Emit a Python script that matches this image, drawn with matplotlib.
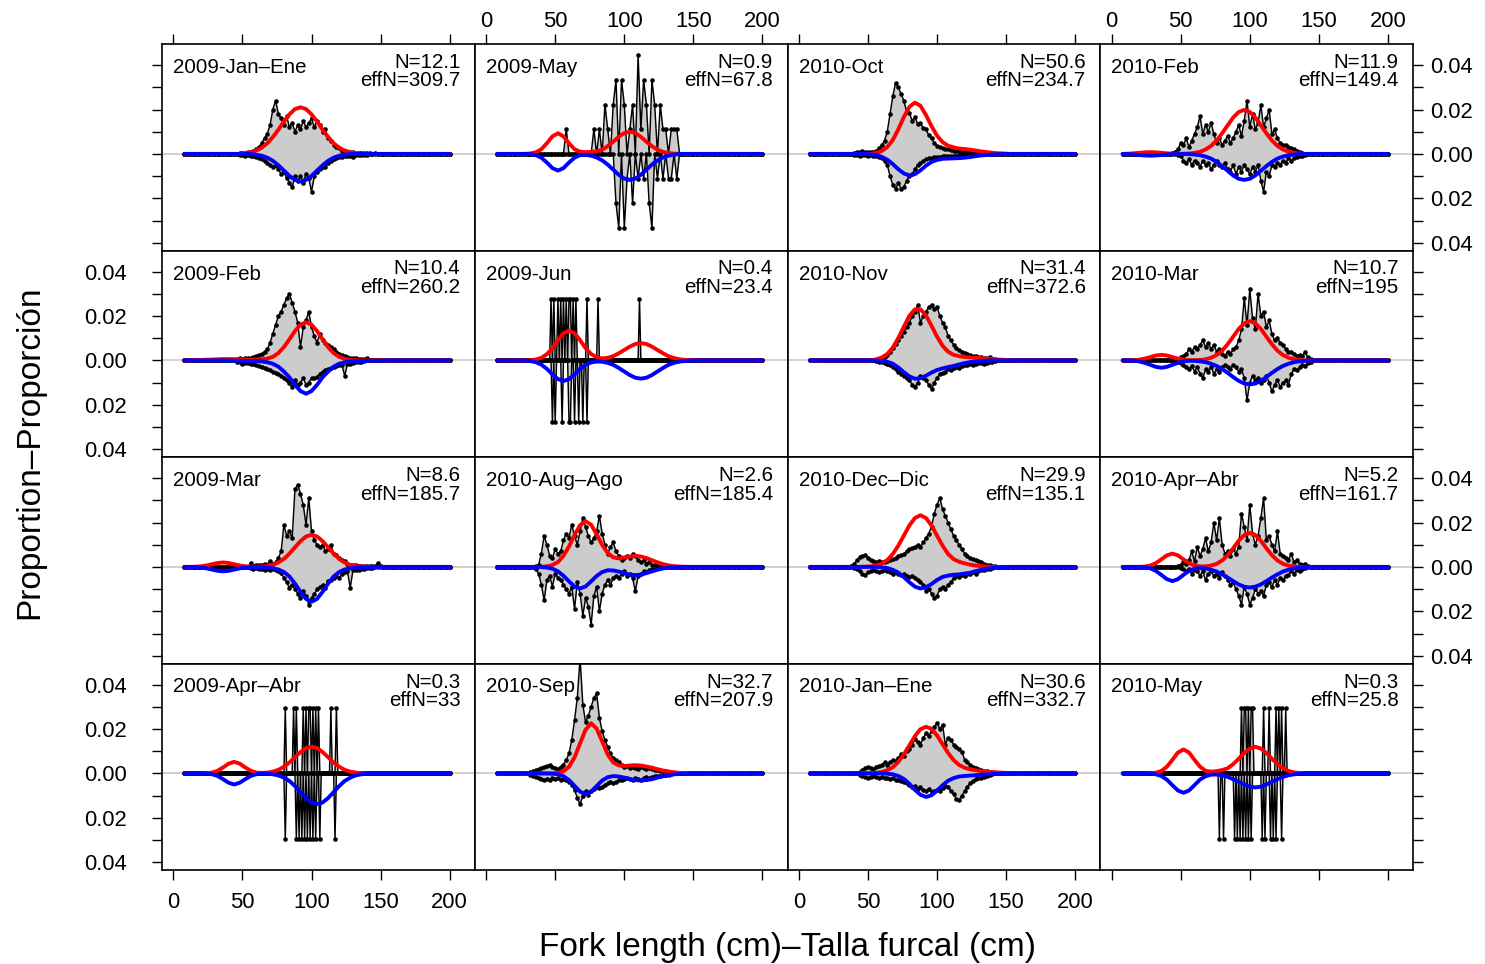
import numpy as np
import matplotlib
matplotlib.use("Agg")
import matplotlib.pyplot as plt

plt.rcParams["font.family"] = ["Liberation Sans", "DejaVu Sans"]

# ---------------------------------------------------------------------------
# Panel annotations, reading order (4 rows x 4 columns)
# ---------------------------------------------------------------------------
titles = ["2009-Jan–Ene", "2009-May", "2010-Oct", "2010-Feb",
          "2009-Feb", "2009-Jun", "2010-Nov", "2010-Mar",
          "2009-Mar", "2010-Aug–Ago", "2010-Dec–Dic", "2010-Apr–Abr",
          "2009-Apr–Abr", "2010-Sep", "2010-Jan–Ene", "2010-May"]
n_values = ["12.1", "0.9", "50.6", "11.9", "10.4", "0.4", "31.4", "10.7",
            "8.6", "2.6", "29.9", "5.2", "0.3", "32.7", "30.6", "0.3"]
effn_values = ["309.7", "67.8", "234.7", "149.4", "260.2", "23.4", "372.6", "195",
               "185.7", "185.4", "135.1", "161.7", "33", "207.9", "332.7", "25.8"]

x_ticks = [0, 50, 100, 150, 200]
y_ticks = [-0.04, -0.03, -0.02, -0.01, 0.0, 0.01, 0.02, 0.03, 0.04]
y_tick_labels = ["0.04", "", "0.02", "", "0.00", "", "0.02", "", "0.04"]

# ---------------------------------------------------------------------------
# Observed proportions at length (x 1e-3).
# (first_cm, values) -> 2-cm bins ; {cm: value} -> single 1-cm bins
# Females plotted upward, males downward.
# ---------------------------------------------------------------------------
obs_f_2009jan = (48, [0.4, 0.6, 0.5, 0.8, 1.0, 1.5, 2, 3, 5, 7, 9, 13, 20, 24, 18, 16, 13, 17, 12, 14,
                      10, 13, 11, 15, 12, 14, 16, 12, 15, 13, 10, 11, 7, 6, 4, 3, 2.5, 1.5, 1.5, 1,
                      0.8, 1, 0.5, 0.5, 0.6, 0.3, 0.3, 0.2, 0, 0.2])
obs_m_2009jan = (48, [0.5, 0.6, 0.8, 0.7, 1, 0.8, 1.5, 2, 2.5, 3, 4, 5, 6, 5, 7, 9, 8, 11, 13, 15,
                      10, 12, 10, 13, 9, 11, 17, 10, 8, 7, 6, 6, 4, 3, 2.5, 2, 1.5, 1.2, 1, 1,
                      0.8, 1.2, 0.6, 0.5, 0.4, 0.3, 0.4, 0.2])

obs_f_2009may = (56, [0, 11.1, 0, 0, 0, 0, 0, 0, 0, 0, 0, 11.1, 0, 11.1, 0, 22.2, 11.1, 0, 22.2, 33.3,
                      0, 33.3, 22.2, 0, 11.1, 22.2, 0, 44.4, 11.1, 33.3, 22.2, 0, 33.3, 22.2, 0, 22.2,
                      11.1, 11.1, 0, 11.1, 11.1, 11.1])
obs_m_2009may = (94, [22.2, 33.3, 0, 33.3, 11.1, 0, 22.2, 0, 11.1, 0, 11.1, 0, 22.2, 33.3, 0, 11.1,
                      0, 11.1, 0, 11.1, 11.1, 0, 11.1])

obs_f_2010oct = (40, [0.5, 1, 1, 1.2, 0.8, 1, 0.8, 1, 1.5, 2.5, 4, 6, 10, 18, 26, 32, 30, 27, 24, 19,
                      18.5, 15, 16.5, 13.5, 14, 11.5, 11, 8.5, 7, 5, 3.6, 3, 2.5, 2.4, 2, 1.8, 1.5,
                      1.3, 1.2, 1, 1, 0.8, 0.7, 0.6, 0.5, 0.5, 0.4, 0.3, 0.3, 0.2])
obs_m_2010oct = (40, [0.3, 0.5, 0.8, 0.6, 0.5, 0.8, 0.6, 1, 1, 1.5, 2, 3, 5, 10, 14, 16, 13, 16, 15, 12,
                      10, 9, 7, 5, 4, 3, 2.5, 2, 2, 1.5, 1.5, 1.2, 1, 1, 1, 1, 0.8, 0.8, 0.6, 0.5,
                      0.5, 0.4, 0.4, 0.3, 0.3, 0.2])

obs_f_2010feb = (44, [0.5, 1, 2, 5, 4, 7, 3, 6, 9, 12, 17, 9, 13, 10, 14, 9, 5, 7, 4, 6,
                      8, 5, 7, 10, 13, 8, 15, 24, 12, 18, 11, 14, 22, 12, 16, 20, 9, 11, 7, 5,
                      4, 4, 3, 2.5, 2, 1.5, 1, 0.5])
obs_m_2010feb = (48, [0.5, 1, 3, 4, 2.5, 5, 3, 4, 6, 3, 5, 4, 7, 5, 3, 5, 6, 4, 7, 8,
                      5, 9, 6, 8, 5, 7, 9, 6, 8, 5, 12, 17, 8, 10, 5, 6, 4, 5, 3, 4,
                      2, 3, 2, 1.5, 1, 1, 0.5])

obs_f_2009feb = (44, [0.3, 0.5, 1, 0.8, 1, 1.2, 1, 1.5, 2, 2.5, 3, 4, 5, 8, 12, 16, 20, 22, 25, 28,
                      30, 26, 22, 17, 6, 15, 18, 22, 15, 11, 8, 12, 9, 8, 7, 6, 5, 4, 3, 2.5,
                      2, 1.5, 1.2, 1, 1, 0.8, 0.6, 0.5, 1, 0.3])
obs_m_2009feb = (46, [0.5, 0.8, 1.5, 1, 1.2, 1.5, 1.5, 2, 2.5, 3, 3.5, 4, 4.5, 5, 5.5, 6, 7, 8, 9, 10,
                      12, 9, 11, 10, 8, 11, 10, 8, 8, 7.5, 6, 5, 4.5, 4, 3.5, 3, 2.5, 2, 2, 7,
                      1.5, 1.5, 1, 0.8, 0.6, 0.5, 0.3])

obs_f_2009jun = {47: 27.8, 49: 27.8, 52: 27.8, 54: 27.8, 56: 27.8, 58: 27.8, 60: 27.8, 61: 27.8,
                 63: 27.8, 65: 27.8, 73: 27.8, 81: 27.8, 111: 27.8}
obs_m_2009jun = {48: 27.8, 50: 27.8, 55: 27.8, 60: 27.8, 61: 27.8, 64: 27.8, 67: 27.8, 70: 27.8,
                 73: 27.8}

obs_f_2010nov = (58, [0.5, 1, 1.5, 2.5, 4, 5.5, 7.5, 9, 11, 13, 15, 17, 20, 22, 25, 17, 20, 22, 24, 25,
                      23, 24, 20, 17, 15, 11, 9, 7, 5.5, 4.5, 4, 3.5, 3, 2.5, 2, 2, 1.5, 1.5, 1.2, 1,
                      1.5, 0.8, 0.5, 0.4, 0.3])
obs_m_2010nov = (56, [0.3, 0.5, 0.8, 1, 1.5, 2, 3, 4, 5, 6, 7, 8, 9, 11, 12, 10, 7, 8, 9, 11,
                      13, 10, 8, 6, 5.5, 5, 4, 4.5, 3.5, 3, 3.5, 2.5, 2, 2, 1.5, 2, 1.5, 1.2, 1, 1.5,
                      1, 0.8, 0.5, 0.3])

obs_f_2010mar = (48, [0.5, 1.5, 2, 3, 5, 4, 6, 5, 7, 9, 6, 8, 5, 7, 4, 5, 3, 2, 4, 3,
                      5, 6, 9, 14, 28, 16, 32, 19, 14, 30, 20, 22, 15, 18, 12, 9, 10, 8, 7, 5,
                      4, 4, 3, 2, 2.5, 2, 3.7, 1.5, 0.5])
obs_m_2010mar = (48, [0.5, 1, 2, 3, 4, 2.5, 5, 3, 6, 8, 4, 5, 3, 6, 4, 5, 3, 2, 3, 4,
                      2, 3, 5, 4, 8, 18, 10, 7, 9, 8, 10, 9, 7, 10, 14, 11, 9, 12, 10, 9,
                      11, 6, 4, 4.5, 3, 2, 2.5, 1, 0.5])

obs_f_2009mar = (56, [1.8, 0.5, 1, 0.8, 1, 1.5, 1, 2.5, 1.5, 2, 4, 7, 19, 14, 16, 13, 35, 37, 33, 28,
                      19, 31, 16, 12, 10, 9, 10, 7, 8, 10, 6, 5.5, 4, 3, 2.5, 1.5, 1, 1, 0.8, 0.5,
                      0.5, 0.4, 0.3, 0.3, 0.2, 0.2, 1.8, 0.2])
obs_m_2009mar = (56, [0.5, 0.8, 0.5, 1, 0.8, 1.2, 1, 1.2, 1, 1.2, 2, 2.7, 5, 7, 9.4, 8, 10, 12, 14, 11,
                      13, 17, 14, 12.4, 10, 9, 8, 9.4, 6.4, 6, 5, 4, 5, 3.4, 2.5, 2, 9.4, 1.5, 1.2, 1.2,
                      1, 0.8, 0.6, 0.4, 0.3])

obs_f_2010aug = (36, [0.5, 1, 6, 14, 10, 5, 4, 8, 6, 7, 12, 15, 13, 19, 14, 10, 16, 22, 18, 14,
                      11, 13, 16, 23, 15, 10, 6, 9, 11, 7, 5, 3, 4, 5, 4, 6, 5, 3, 2, 3,
                      1.5, 2, 1, 1, 0.5])
obs_m_2010aug = (36, [1, 3, 8, 15, 6, 4, 9, 3, 5, 6, 8, 10, 12, 9, 19, 7, 12, 22, 14, 18,
                      26, 13, 9, 20, 12, 8, 6, 8, 5, 4, 5, 3, 2, 4, 3, 5, 11, 4, 3, 2,
                      2.5, 1.5, 1, 1, 0.5])

obs_f_2010dec = (38, [0.5, 1.5, 3, 4.5, 5, 5.5, 4, 3, 2.5, 2, 2.5, 2, 2, 2.5, 3, 3.5, 4, 5, 5.5, 6,
                      7, 8, 8.5, 9, 10, 9, 11, 13, 15, 18, 24, 28, 31, 26, 23, 20, 17, 14, 12, 10,
                      8, 6, 5, 4, 3.5, 3, 2.5, 2, 1.5, 1, 0.8, 0.5, 0.3])
obs_m_2010dec = (40, [0.5, 1, 2, 3, 3.5, 2.5, 2, 1.5, 2, 2.5, 2, 1.5, 2, 2.5, 3, 2.5, 3, 3.5, 3, 4,
                      4.5, 4, 5, 6, 7, 8, 11, 10, 12, 14, 13, 10, 9, 10, 8, 7, 5, 4, 4.5, 3.5,
                      4, 3, 3, 2.5, 3, 2, 1.5, 1.2, 1, 0.8, 0.5])

obs_f_2010apr = (48, [0.5, 1, 2, 1.5, 3, 7, 2.5, 9, 5, 8, 13, 7, 11, 20, 12, 22, 10, 6, 7, 5,
                      8, 6, 9, 24, 18, 12, 28, 15, 10, 14, 22, 31, 12, 14, 10, 7, 16, 6, 5, 4,
                      3, 6, 2, 3, 1.5, 1, 1.5, 0.5])
obs_m_2010apr = (50, [0.5, 1, 2, 1, 3, 1.5, 2, 4, 2, 6, 3, 2, 4, 3, 5, 2.5, 4, 6, 8, 7,
                      10, 13, 17, 9, 12, 17, 14, 10, 12, 11, 13, 8, 7, 9, 6, 8, 5, 6, 4, 3.5,
                      2, 3, 1.5, 2, 1, 0.5])

obs_f_2009apr = {81: 29.4, 87: 29.4, 89: 29.4, 94: 29.4, 96: 29.4, 98: 29.4, 99: 29.4, 101: 29.4,
                 103: 29.4, 105: 29.4, 114: 29.4, 118: 29.4}
obs_m_2009apr = {81: 29.4, 89: 29.4, 91: 29.4, 93: 29.4, 95: 29.4, 97: 29.4, 99: 29.4, 101: 29.4,
                 103: 29.4, 106: 29.4, 117: 29.4}

obs_f_2010sep = (32, [0.5, 1, 1.5, 2, 2.5, 3, 3.5, 3.7, 3, 2.5, 2, 3, 4, 6, 9, 15, 24, 34, 52, 31,
                      23, 26, 30, 34, 36, 25, 19, 15, 12, 9, 7, 6, 5, 3.7, 3, 3.5, 2.5, 3, 2.5, 2,
                      3, 2.5, 2, 2.5, 2, 1.5, 1.5, 1.2, 1, 1, 0.8, 0.5, 0.3])
obs_m_2010sep = (32, [0.5, 1, 1.5, 2, 2.5, 3, 2.5, 3, 2, 2.5, 2, 3, 2.5, 3, 3.7, 5, 7.5, 11, 14, 10,
                      8, 9.7, 8, 7, 6, 6.5, 6, 5, 4.5, 4, 4.5, 4, 3, 3, 2.5, 2, 2.5, 3, 2, 2.5,
                      3, 2, 1.5, 2, 1.5, 1.2, 1, 1, 0.8, 0.6, 0.5, 0.3])

obs_f_2010jan = (44, [0.5, 1.5, 2.5, 3, 2.5, 2, 3, 3.5, 4, 5, 4, 5, 6, 5.5, 7, 8.6, 8, 10, 11, 13,
                      15.7, 14, 13, 16, 18, 17, 19, 21, 22.8, 20, 22, 13, 16, 15, 13, 12, 11, 9.8, 6.2, 5,
                      4, 3, 2.6, 2, 1.5, 1.2, 1, 0.8, 0.5, 0.3])
obs_m_2010jan = (44, [0.5, 1, 1.5, 2, 1.5, 1, 1.5, 2, 1.5, 2, 2, 2.5, 2, 3, 3, 3.3, 4, 4.5, 5, 6,
                      5.5, 7, 6, 7.5, 8, 7, 8.5, 8, 7.5, 8, 6.5, 5.7, 6, 8, 9.3, 11.7, 12, 10, 8, 6,
                      4.5, 3.5, 2.5, 2, 2, 1.5, 1, 0.7, 0.4])

obs_f_2010may = {94: 29.4, 96: 29.4, 97: 29.4, 99: 29.4, 101: 29.4, 102: 29.4, 110: 29.4, 114: 29.4,
                 119: 29.4, 121: 29.4, 123: 29.4, 126: 29.4}
obs_m_2010may = {78: 29.4, 81: 29.4, 89: 29.4, 91: 29.4, 93: 29.4, 95: 29.4, 97: 29.4, 99: 29.4,
                 101: 29.4, 109: 29.4, 111: 29.4, 115: 29.4, 117: 29.4, 119: 29.4, 123: 29.4}

# ---------------------------------------------------------------------------
# Model-predicted proportions (x 1e-3) on 4-cm steps: (first_cm, values)
# ---------------------------------------------------------------------------
fit_f_2009jan = (52, [0.4, 0.8, 1.5, 2.8, 4.8, 7.6, 10.9, 14.6, 17.8, 20.2, 21, 20.2, 17.8, 14.6,
                      10.9, 7.6, 4.8, 2.8, 1.5, 0.8, 0.4])
fit_m_2009jan = (60, [0.4, 0.8, 1.7, 3.1, 5.1, 7.5, 9.9, 11.7, 12.4, 11.7, 9.9, 7.5, 5.1, 3.1,
                      1.7, 0.8, 0.4])
fit_f_2009may = (32, [0.2, 0.7, 2.1, 4.8, 7.9, 9.3, 7.9, 4.8, 2.1, 1.0, 0.8, 0.9, 1.2, 1.9, 3.5,
                      5.5, 7.7, 9.4, 10, 9.4, 7.7, 5.5, 3.5, 1.9, 0.9, 0.4, 0.15])
fit_m_2009may = (32, [0.1, 0.55, 1.7, 3.9, 6.4, 7.5, 6.4, 3.9, 1.7, 0.55, 0.4, 0.8, 1.6, 2.9, 4.8,
                      7.1, 9.4, 11.1, 11.7, 11.1, 9.4, 7.1, 4.8, 2.9, 1.6, 0.8, 0.3])
fit_f_2010oct = (56, [0.45, 1.3, 3.1, 6.3, 11.1, 16.6, 21.2, 23.1, 21.7, 17.5, 12.5, 8.2, 5.3, 3.7,
                      2.95, 2.4, 2.2, 1.9, 1.5, 1.1, 0.8, 0.5, 0.3, 0.2])
fit_m_2010oct = (52, [0.2, 0.5, 1.3, 2.6, 4.6, 6.9, 8.8, 9.7, 9.1, 7.4, 5.3, 3.6, 2.7, 2.2, 2.1,
                      2.0, 1.9, 1.7, 1.4, 1.0, 0.7, 0.5, 0.3, 0.15])
fit_f_2010feb = (12, [0.1, 0.26, 0.5, 0.7, 0.8, 0.7, 0.5, 0.26, 0.1, 0.05, 0.1, 0.18, 0.44, 0.95,
                      2.0, 3.6, 6.1, 9.3, 12.9, 16.4, 18.9, 19.8, 18.9, 16.4, 12.9, 9.3, 6.1, 3.6,
                      2.0, 0.95, 0.44, 0.18])
fit_m_2010feb = (12, [0.1, 0.26, 0.5, 0.7, 0.8, 0.7, 0.5, 0.26, 0.1, 0.05, 0.05, 0.1, 0.26, 0.56,
                      1.2, 2.1, 3.6, 5.5, 7.6, 9.7, 11.2, 11.7, 11.2, 9.7, 7.6, 5.5, 3.6, 2.1,
                      1.2, 0.56, 0.26, 0.1])
fit_f_2009feb = (16, [0.1, 0.2, 0.3, 0.4, 0.5, 0.6, 0.6, 0.6, 0.5, 0.4, 0.3, 0.4, 0.5, 0.8, 1.6,
                      3.3, 6.0, 9.5, 13.2, 16.1, 17.2, 16.1, 13.2, 9.5, 6.0, 3.3, 1.6, 0.7, 0.26, 0.1])
fit_m_2009feb = (40, [0.08, 0.12, 0.16, 0.22, 0.28, 0.35, 0.44, 0.83, 1.5, 2.8, 5.0, 7.6, 11.0,
                      13.8, 15, 13.8, 11.0, 7.6, 5.0, 2.8, 1.5, 0.83, 0.44, 0.35, 0.28, 0.22,
                      0.16, 0.12, 0.08])
fit_f_2009jun = (32, [0.1, 0.4, 1.15, 2.8, 5.5, 9.1, 12.2, 13.5, 12.2, 9.1, 5.5, 2.9, 1.4, 0.9,
                      1.15, 1.9, 3.2, 4.7, 6.2, 7.4, 7.8, 7.4, 6.2, 4.7, 3.2, 1.9, 1.05, 0.5,
                      0.23, 0.09])
fit_m_2009jun = (28, [0.07, 0.27, 0.8, 1.9, 3.8, 6.3, 8.4, 9.3, 8.4, 6.3, 3.8, 1.9, 0.9, 0.5, 0.6,
                      1.1, 2.0, 3.4, 5.0, 6.6, 7.8, 8.2, 7.8, 6.6, 5.0, 3.4, 2.0, 1.1, 0.54,
                      0.24, 0.09])
fit_f_2010nov = (56, [0.5, 1.3, 2.9, 5.8, 10.1, 15.2, 20.1, 23.0, 23.0, 20.3, 15.6, 10.7, 6.6, 3.9,
                      2.5, 1.9, 1.5, 1.35, 1.2, 1.0, 0.8, 0.6, 0.4, 0.25, 0.15])
fit_m_2010nov = (56, [0.06, 0.22, 0.64, 1.5, 3.2, 5.3, 7.2, 8.25, 8.0, 6.9, 5.5, 4.3, 3.6, 3.0,
                      2.5, 1.8, 1.2, 0.75, 0.4, 0.2, 0.09])
fit_f_2010mar = (16, [0.1, 0.34, 0.8, 1.5, 2.2, 2.5, 2.2, 1.5, 0.8, 0.34, 0.1, 0.1, 0.2, 0.5, 1.2,
                      2.4, 4.4, 7.3, 10.7, 14.2, 16.7, 17.7, 16.7, 14.2, 10.7, 7.3, 4.4, 2.4, 1.2,
                      0.5, 0.2])
fit_m_2010mar = (16, [0.15, 0.45, 1.1, 2.0, 2.9, 3.3, 2.9, 2.0, 1.1, 0.45, 0.15, 0.18, 0.4, 0.8,
                      1.5, 2.5, 3.9, 5.6, 7.5, 9.2, 10.4, 10.8, 10.4, 9.2, 7.5, 5.6, 3.9, 2.5,
                      1.5, 0.8, 0.4, 0.18])
fit_f_2009mar = (16, [0.09, 0.27, 0.65, 1.2, 1.76, 2.0, 1.76, 1.2, 0.65, 0.27, 0.09, 0.05, 0.16,
                      0.42, 0.96, 2.0, 3.6, 6.0, 8.8, 11.6, 13.7, 14.5, 13.7, 11.6, 8.8, 6.0, 3.6,
                      2.0, 0.96, 0.42, 0.16])
fit_m_2009mar = (16, [0.09, 0.27, 0.65, 1.2, 1.76, 2.0, 1.76, 1.2, 0.65, 0.27, 0.1, 0.19, 0.26,
                      0.35, 0.63, 1.15, 2.3, 4.3, 7.5, 11.2, 14.4, 15.7, 14.4, 11.2, 7.5, 4.3, 2.3,
                      1.15, 0.63, 0.35, 0.26, 0.19, 0.1])
fit_f_2010aug = (44, [0.27, 0.84, 2.2, 5.0, 9.2, 14.4, 18.8, 20.6, 19.0, 14.7, 9.9, 6.25, 4.3, 3.8,
                      4.3, 4.7, 5.0, 4.7, 4.0, 3.0, 2.1, 1.25, 0.68, 0.33, 0.15, 0.06])
fit_m_2010aug = (40, [0.08, 0.28, 0.82, 2.0, 4.0, 6.5, 8.8, 9.7, 8.8, 6.5, 4.1, 2.3, 1.5, 1.6, 2.1,
                      2.8, 3.5, 3.7, 3.5, 2.8, 2.0, 1.3, 0.7, 0.34, 0.14])
fit_f_2010dec = (48, [0.1, 0.26, 0.68, 1.5, 3.1, 5.8, 9.6, 14.1, 18.7, 22.0, 23.3, 22.0, 18.7, 14.1,
                      9.6, 5.8, 3.5, 2.3, 1.6, 1.0, 0.6, 0.3, 0.15])
fit_m_2010dec = (60, [0.19, 0.53, 1.3, 2.6, 4.6, 6.9, 8.9, 9.7, 9.2, 7.7, 5.9, 4.5, 3.9, 3.5, 3.4,
                      3.0, 2.6, 1.9, 1.3, 0.8, 0.43, 0.21, 0.09])
fit_f_2010apr = (24, [0.17, 0.6, 1.7, 3.4, 5.2, 6.0, 5.2, 3.4, 1.7, 0.6, 0.25, 0.23, 0.6, 1.4, 2.9,
                      5.3, 8.4, 11.8, 14.3, 15.3, 14.3, 11.8, 8.4, 5.3, 2.9, 1.4, 0.6, 0.23])
fit_m_2010apr = (24, [0.19, 0.66, 1.8, 3.6, 5.5, 6.4, 5.5, 3.6, 1.8, 0.8, 0.5, 0.68, 1.26, 2.1,
                      3.35, 4.8, 6.4, 7.9, 8.9, 9.3, 8.9, 7.9, 6.4, 4.8, 3.35, 2.1, 1.26, 0.68,
                      0.34, 0.16])
fit_f_2009apr = (24, [0.09, 0.38, 1.2, 2.7, 4.4, 5.2, 4.4, 2.7, 1.2, 0.38, 0.22, 0.35, 0.8, 1.6,
                      3.0, 4.9, 7.3, 9.6, 11.4, 12, 11.4, 9.6, 7.3, 4.9, 3.0, 1.6, 0.8, 0.35, 0.13])
fit_m_2009apr = (24, [0.09, 0.37, 1.15, 2.6, 4.2, 5.0, 4.2, 2.6, 1.15, 0.37, 0.09, 0.15, 0.4, 0.9,
                      1.9, 3.4, 5.7, 8.4, 11.1, 13.1, 13.8, 13.1, 11.1, 8.4, 5.7, 3.4, 1.9, 0.9,
                      0.4, 0.15])
fit_f_2010sep = (52, [0.25, 0.98, 3.0, 7.2, 13.5, 19.7, 22.6, 20.2, 14.4, 8.5, 4.9, 3.6, 3.35, 3.55,
                      3.7, 3.55, 3.1, 2.6, 1.9, 1.3, 0.85, 0.5, 0.27, 0.13])
fit_m_2010sep = (48, [0.1, 0.4, 1.25, 3.0, 5.6, 8.2, 9.3, 8.2, 5.7, 3.2, 1.7, 1.2, 1.4, 1.9, 2.6,
                      3.0, 3.2, 3.0, 2.6, 1.9, 1.3, 0.8, 0.43, 0.21, 0.09])
fit_f_2010jan = (52, [0.1, 0.23, 0.6, 1.4, 2.8, 5.2, 8.6, 12.7, 16.8, 19.9, 21, 20.1, 17.1, 13.1,
                      9.2, 6.0, 3.8, 2.55, 1.8, 1.4, 1.1, 0.83, 0.62, 0.43, 0.28, 0.16])
fit_m_2010jan = (64, [0.14, 0.43, 1.15, 2.5, 4.7, 7.4, 9.6, 10.6, 9.85, 7.8, 5.3, 3.3, 2.1, 1.4,
                      1.15, 0.95, 0.8, 0.6, 0.41, 0.25, 0.13])
fit_f_2010may = (28, [0.07, 0.31, 1.1, 3.0, 6.1, 9.4, 10.8, 9.4, 6.1, 3.0, 1.2, 0.8, 1.0, 1.5, 2.3,
                      4.2, 6.6, 9.2, 11.2, 12, 11.2, 9.2, 6.6, 4.2, 2.3, 1.1, 0.47, 0.18])
fit_m_2010may = (28, [0.1, 0.38, 1.2, 2.8, 5.3, 7.7, 8.7, 7.7, 5.3, 2.8, 1.3, 0.56, 0.52, 0.85, 1.6,
                      2.6, 3.8, 5.0, 6.0, 6.3, 6.0, 5.0, 3.8, 2.6, 1.6, 0.85, 0.42, 0.18, 0.07])

obs_female = [obs_f_2009jan, obs_f_2009may, obs_f_2010oct, obs_f_2010feb,
              obs_f_2009feb, obs_f_2009jun, obs_f_2010nov, obs_f_2010mar,
              obs_f_2009mar, obs_f_2010aug, obs_f_2010dec, obs_f_2010apr,
              obs_f_2009apr, obs_f_2010sep, obs_f_2010jan, obs_f_2010may]
obs_male = [obs_m_2009jan, obs_m_2009may, obs_m_2010oct, obs_m_2010feb,
            obs_m_2009feb, obs_m_2009jun, obs_m_2010nov, obs_m_2010mar,
            obs_m_2009mar, obs_m_2010aug, obs_m_2010dec, obs_m_2010apr,
            obs_m_2009apr, obs_m_2010sep, obs_m_2010jan, obs_m_2010may]
fit_female = [fit_f_2009jan, fit_f_2009may, fit_f_2010oct, fit_f_2010feb,
              fit_f_2009feb, fit_f_2009jun, fit_f_2010nov, fit_f_2010mar,
              fit_f_2009mar, fit_f_2010aug, fit_f_2010dec, fit_f_2010apr,
              fit_f_2009apr, fit_f_2010sep, fit_f_2010jan, fit_f_2010may]
fit_male = [fit_m_2009jan, fit_m_2009may, fit_m_2010oct, fit_m_2010feb,
            fit_m_2009feb, fit_m_2009jun, fit_m_2010nov, fit_m_2010mar,
            fit_m_2009mar, fit_m_2010aug, fit_m_2010dec, fit_m_2010apr,
            fit_m_2009apr, fit_m_2010sep, fit_m_2010jan, fit_m_2010may]

MIN_LEN, MAX_LEN = 8, 200


def binned(series, step):
    """Return (lengths, proportions) over the full 8-200 cm range."""
    if isinstance(series, dict):
        x = np.arange(MIN_LEN, MAX_LEN + 1)
        y = np.zeros(x.size)
        for cm, v in series.items():
            y[cm - MIN_LEN] = v
    else:
        first, vals = series
        x = np.arange(MIN_LEN, MAX_LEN + 1, step)
        y = np.zeros(x.size)
        i = (first - MIN_LEN) // step
        y[i:i + len(vals)] = vals
    return x, y / 1000.0


# ---------------------------------------------------------------------------
# Figure: 4 x 4 lattice of touching panels
# ---------------------------------------------------------------------------
W_PX, H_PX = 1485, 964
fig = plt.figure(figsize=(W_PX / 100, H_PX / 100), dpi=100)
left, right, top, bottom = 162 / W_PX, 1413 / W_PX, 1 - 44 / H_PX, 1 - 870 / H_PX
pw, ph = (right - left) / 4, (top - bottom) / 4

GREY_FILL = "#cccccc"
TICK_FS = 15.8
TEXT_FS = 14.8

for k in range(16):
    r, c = divmod(k, 4)
    ax = fig.add_axes([left + c * pw, top - (r + 1) * ph, pw, ph])
    ax.set_xlim(-8.2, 218.1)
    ax.set_ylim(-0.0435, 0.0495)

    ax.axhline(0, color="#c4c4c4", lw=1.1, zorder=0)

    xf, yf = binned(obs_female[k], 2)
    xm, ym = binned(obs_male[k], 2)
    ax.fill_between(xf, 0, yf, color=GREY_FILL, lw=0, zorder=1)
    ax.fill_between(xm, 0, -ym, color=GREY_FILL, lw=0, zorder=1)
    for xx, yy in ((xf, yf), (xm, -ym)):
        ax.plot(xx, yy, color="black", lw=1.05, marker="o", ms=3.3, mew=0, zorder=2)

    xr, yr = binned(fit_female[k], 4)
    xb, yb = binned(fit_male[k], 4)
    ax.plot(xr, yr, color="#ff0000", lw=2.8, solid_capstyle="round",
            solid_joinstyle="round", zorder=3)
    ax.plot(xb, -yb, color="#0000ff", lw=2.8, solid_capstyle="round",
            solid_joinstyle="round", zorder=4)

    # panel annotations
    ax.text(11 / 312.75, 1 - 29 / 206.5, titles[k], transform=ax.transAxes,
            ha="left", va="baseline", fontsize=TEXT_FS)
    ax.text(1 - 14.5 / 312.75, 1 - 24 / 206.5, "N=" + n_values[k], transform=ax.transAxes,
            ha="right", va="baseline", fontsize=TEXT_FS)
    ax.text(1 - 14.5 / 312.75, 1 - 42.5 / 206.5, "effN=" + effn_values[k],
            transform=ax.transAxes, ha="right", va="baseline", fontsize=TEXT_FS)

    for s in ax.spines.values():
        s.set_linewidth(1.2)

    # lattice-style alternating axes
    ax.set_xticks(x_ticks)
    ax.set_xticklabels([str(v) for v in x_ticks])
    ax.set_yticks(y_ticks)
    ax.set_yticklabels(y_tick_labels)
    ax.tick_params(axis="both", direction="out", length=7.5, width=1.0,
                   labelsize=TICK_FS, top=False, bottom=False, left=False, right=False,
                   labeltop=False, labelbottom=False, labelleft=False, labelright=False)
    if r == 0:
        ax.tick_params(axis="x", top=True, labeltop=(c % 2 == 1), pad=1)
    if r == 3:
        ax.tick_params(axis="x", bottom=True, labelbottom=(c % 2 == 0), pad=8)
    if c == 0:
        ax.tick_params(axis="y", left=True, labelleft=(r % 2 == 1), pad=18)
    if c == 3:
        ax.tick_params(axis="y", right=True, labelright=(r % 2 == 0), pad=4.5)

fig.text(787.5 / W_PX, 1 - 956 / H_PX, "Fork length (cm)–Talla furcal (cm)",
         ha="center", va="baseline", fontsize=24)
fig.text(30 / W_PX, 1 - 452 / H_PX, "Proportion–Proporción", rotation=90,
         ha="center", va="center", fontsize=24)

fig.savefig("out.png", dpi=100)
